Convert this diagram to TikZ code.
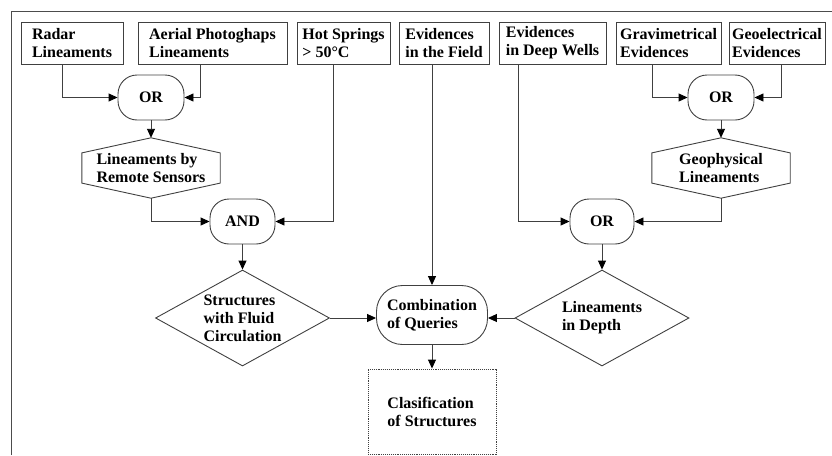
\documentclass[tikz,border=0pt]{standalone}
\usepackage{fontspec}
\setmainfont{Liberation Serif}
\usepackage{tikz}
\usetikzlibrary{shapes.geometric}
\usetikzlibrary{arrows.meta}
\usetikzlibrary{calc}
\tikzstyle{txt} = [align=left, font={\bfseries\fontsize{16}{18}\selectfont}]
\tikzstyle{box} = [txt, draw=black!75, line width=0.9pt, rectangle, minimum height=42pt, inner xsep=2pt]
\tikzstyle{gate} = [txt, draw=black!75, line width=0.9pt, rectangle, rounded corners=19pt, minimum height=45pt]
\tikzstyle{hexa} = [txt, minimum width=138pt, minimum height=60pt, inner sep=0pt]
\tikzstyle{rhombus} = [txt, draw=black!75, line width=0.9pt, diamond, aspect=1.8, inner sep=0pt, minimum width=174pt, minimum height=96pt]
\tikzstyle{arr} = [draw=black!75, line width=0.9pt, -{Triangle[length=9pt,width=8pt,color=black]}]
\tikzstyle{frame} = [draw=black!70, line width=1pt]

\begin{document}
\begin{tikzpicture}[x=1pt,y=-1pt]
			\useasboundingbox (0,0) rectangle (832,455);
			\draw[frame] (11,455) -- (11,11) -- (832,11);
			\node[box, minimum width=102pt] (radar) at (72,43) {Radar\\Lineaments};
			\node[box, minimum width=149pt] (aerial) at (212.5,43) {Aerial Photoghaps\\Lineaments};
			\node[box, minimum width=93pt] (hot) at (343.5,43) {Hot Springs\\> 50°C};
			\node[box, minimum width=90pt] (field) at (444,43) {Evidences\\in the Field};
			\node[box, minimum width=107pt] (wells) at (552.5,43) {Evidences\\in Deep Wells};
			\node[box, minimum width=105pt] (grav) at (668.5,43) {Gravimetrical\\Evidences};
			\node[box, minimum width=96pt] (geoel) at (777,43) {Geoelectrical\\Evidences};
			\node[gate, minimum width=66pt] (or1) at (151,97.5) {OR};
			\node[gate, minimum width=66pt] (or2) at (721,97.5) {OR};
			\node[hexa] (lrs) at (151,168) {Lineaments by\\Remote Sensors};
			\node[hexa] (geo) at (721,168) {Geophysical\\Lineaments};
			\foreach \n in {lrs,geo}
				\draw[draw=black!75, line width=0.9pt] (\n.north) -- ($(\n.north east)!.25!(\n.south east)$) -- ($(\n.north east)!.75!(\n.south east)$) -- (\n.south) -- ($(\n.north west)!.75!(\n.south west)$) -- ($(\n.north west)!.25!(\n.south west)$) -- cycle;
			\node[gate, minimum width=65pt] (and) at (242.5,221.5) {AND};
			\node[gate, minimum width=64pt] (or3) at (602,221.5) {OR};
			\node[rhombus] (sfc) at (242.5,318) {Structures\\with Fluid\\Circulation};
			\node[rhombus] (lid) at (602,318) {Lineaments\\in Depth};
			\node[gate, rounded corners=26pt, minimum width=111pt, minimum height=59pt] (comb) at (432,315) {Combination\\of Queries};
			\node[box, densely dotted, minimum width=128pt, minimum height=85pt] (clas) at (432,411.5) {Clasification\\of Structures};
			\draw[arr] ([xshift=-10pt]radar.south) |- (or1.west);
			\draw[arr] ([xshift=-12.5pt]aerial.south) |- (or1.east);
			\draw[arr] (or1.south) -- (lrs.north);
			\draw[arr] (lrs.south) |- (and.west);
			\draw[arr] ([xshift=-10.5pt]hot.south) |- (and.east);
			\draw[arr] (and.south) -- (sfc.north);
			\draw[arr] ([xshift=-16.5pt]grav.south) |- (or2.west);
			\draw[arr] ([xshift=4pt]geoel.south) |- (or2.east);
			\draw[arr] (or2.south) -- (geo.north);
			\draw[arr] ([xshift=-34.5pt]wells.south) |- (or3.west);
			\draw[arr] (geo.south) |- (or3.east);
			\draw[arr] (or3.south) -- (lid.north);
			\draw[arr] ([xshift=-12pt]field.south) -- (comb.north);
			\draw[arr] (sfc.east) -- (sfc.east -| comb.west);
			\draw[arr] (lid.west) -- (lid.west -| comb.east);
			\draw[arr] (comb.south) -- (clas.north);
		\end{tikzpicture}
\end{document}
